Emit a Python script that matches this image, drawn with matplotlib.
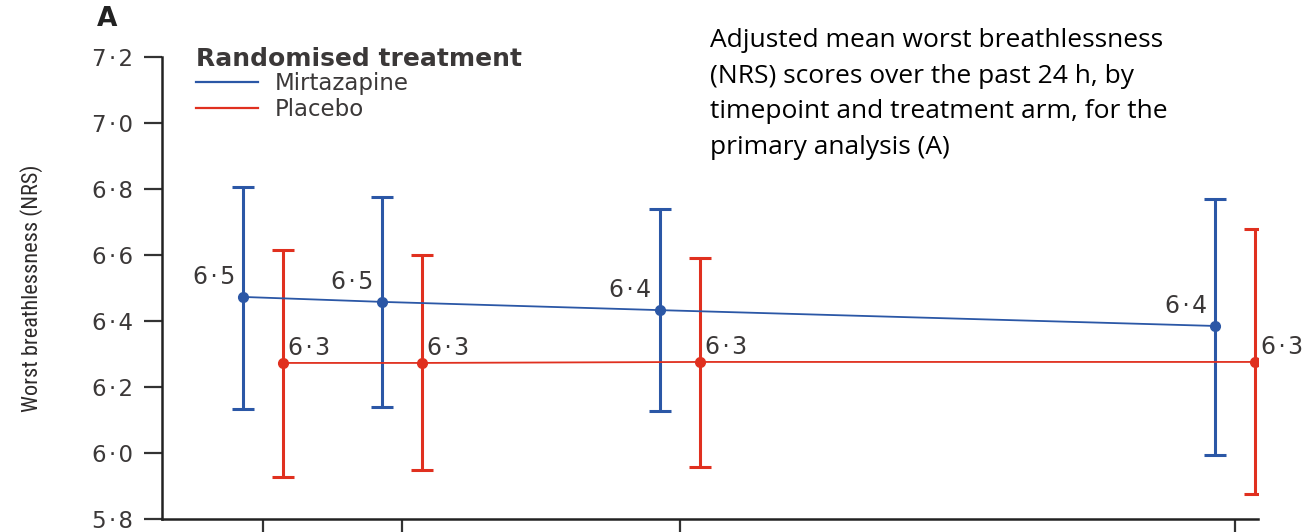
import matplotlib
matplotlib.use("Agg")
import matplotlib.pyplot as plt
from matplotlib.lines import Line2D
from matplotlib import font_manager

# timepoints (days) and adjusted means with 95% CI
days = [7, 14, 28, 56]
mirt_mean = [6.473, 6.458, 6.433, 6.385]
mirt_low = [6.133, 6.139, 6.127, 5.994]
mirt_high = [6.806, 6.776, 6.739, 6.770]
plac_mean = [6.273, 6.273, 6.276, 6.276]
plac_low = [5.927, 5.948, 5.958, 5.876]
plac_high = [6.615, 6.600, 6.590, 6.679]

yticks = [5.8, 6.0, 6.2, 6.4, 6.6, 6.8, 7.0, 7.2]

blue = "#2b57a6"
red = "#e0301f"
txt = "#3b3838"
mainfont = ["DejaVu Sans"]

#pick a narrow face for the y label if one exists
have = {f.name for f in font_manager.fontManager.ttflist}
narrow = "DejaVu Sans"
for cand in ["Liberation Sans Narrow", "DejaVu Sans Condensed", "Roboto Condensed"]:
    if cand in have:
        narrow = cand
        break

fig = plt.figure(figsize=(13.07, 5.32), dpi=100)
ax = fig.add_axes([0.124, 0.0244, 0.8386, 0.8684])

def dot(v):
    return f"{v:.1f}".replace(".", "\u200a\u00b7\u200a")

#mirtazapine shifted 1 day left, placebo 1 day right
xm = [d - 1 for d in days]
xp = [d + 1 for d in days]

ax.errorbar(xm, mirt_mean,
            yerr=[[m - l for m, l in zip(mirt_mean, mirt_low)],
                  [h - m for m, h in zip(mirt_mean, mirt_high)]],
            fmt="none", ecolor=blue, elinewidth=2.2, capsize=8, capthick=2.2)
ax.errorbar(xp, plac_mean,
            yerr=[[m - l for m, l in zip(plac_mean, plac_low)],
                  [h - m for m, h in zip(plac_mean, plac_high)]],
            fmt="none", ecolor=red, elinewidth=2.2, capsize=8, capthick=2.2)
ax.plot(xm, mirt_mean, color=blue, lw=1.3, marker="o", ms=7)
ax.plot(xp, plac_mean, color=red, lw=1.3, marker="o", ms=7)

for x, y in zip(xm, mirt_mean):
    ax.annotate(dot(y), (x, y), xytext=(-6, 6), textcoords="offset points",
                ha="right", va="bottom", fontsize=17, color=txt, family=mainfont)
for x, y in zip(xp, plac_mean):
    ax.annotate(dot(y), (x, y), xytext=(4, 2), textcoords="offset points",
                ha="left", va="bottom", fontsize=17, color=txt, family=mainfont,
                annotation_clip=False)

ax.set_xlim(1.91, 57.15)
ax.set_ylim(5.8, 7.2)
ax.set_xticks(days)
ax.set_xticklabels([])
ax.set_yticks(yticks)
ax.set_yticklabels([dot(v) for v in yticks], family=mainfont, fontsize=16.5, color=txt)
ax.tick_params(axis="y", length=13, width=1.6, color="#333333", pad=8)
ax.tick_params(axis="x", length=9, width=1.6, color="#333333")
for s in ["top", "right"]:
    ax.spines[s].set_visible(False)
for s in ["left", "bottom"]:
    ax.spines[s].set_linewidth(1.8)
    ax.spines[s].set_color("#222222")

ax.set_ylabel("Worst breathlessness (NRS)", family=[narrow, "DejaVu Sans"],
              fontsize=16, color="#2e2b2b", labelpad=35)

handles = [Line2D([], [], color=blue, lw=1.6), Line2D([], [], color=red, lw=1.6)]
leg = fig.legend(handles, ["Mirtazapine", "Placebo"], title="Randomised treatment",
                 loc="upper left", bbox_to_anchor=(0.150, 0.912), frameon=False,
                 prop={"family": mainfont, "size": 16.5}, handlelength=2.7,
                 handletextpad=0.75, labelspacing=0.12, borderaxespad=0,
                 borderpad=0)
leg.get_title().set_fontweight("bold")
leg.get_title().set_fontsize(18)
leg.get_title().set_family(mainfont)
leg.get_title().set_color(txt)
leg._legend_box.align = "left"
leg._legend_box.sep = 1
for t in leg.get_texts():
    t.set_color(txt)

fig.text(0.074, 0.965, "A", fontsize=19, fontweight="bold", color="#222222",
         family=mainfont, va="center")

fig.text(0.543, 0.947, "Adjusted mean worst breathlessness\n(NRS) scores over the past 24 h, by\n"
         "timepoint and treatment arm, for the\nprimary analysis (A)",
         fontsize=19, family=["Open Sans", "DejaVu Sans"], va="top", ha="left",
         linespacing=1.55, color="black")

fig.savefig("out.png", dpi=100)
